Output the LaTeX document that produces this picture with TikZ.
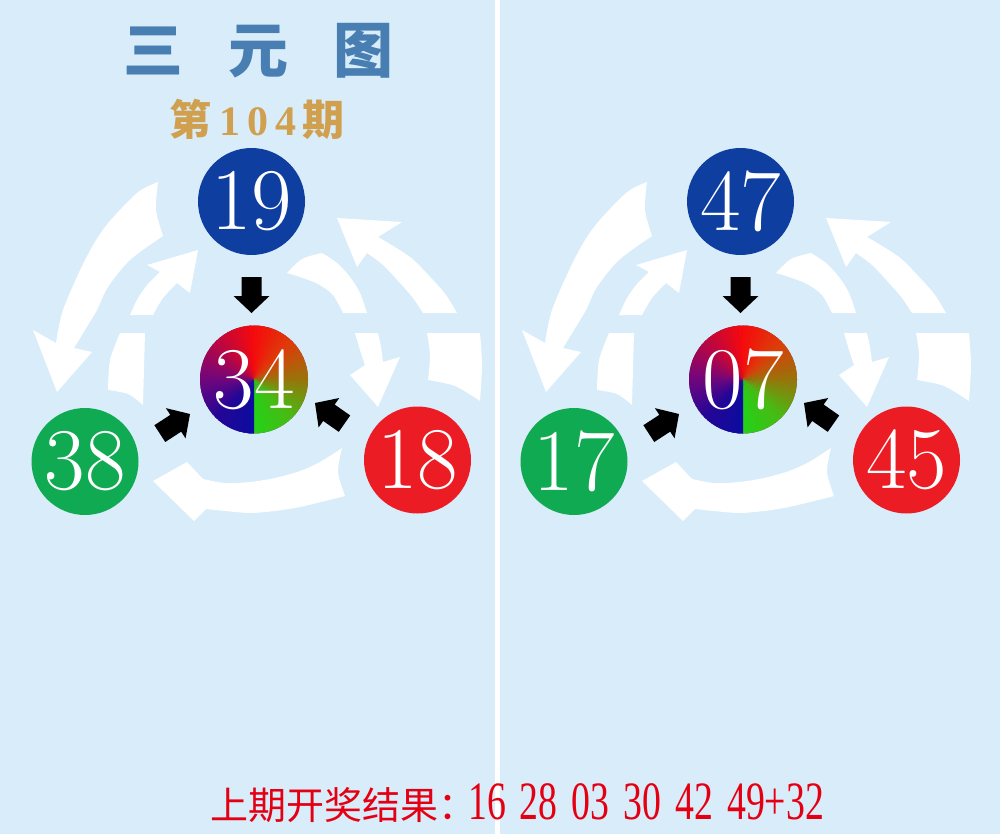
\documentclass[tikz,border=0pt]{standalone}
\usepackage{fontspec}
\usepackage{graphicx}
\newfontfamily\cjkfont{Noto Sans CJK SC}
\newfontfamily\numfont{Liberation Serif}
\definecolor{bg}{RGB}{216,236,250}
\definecolor{ballblue}{RGB}{14,62,160}
\definecolor{ballgreen}{RGB}{16,170,82}
\definecolor{ballred}{RGB}{236,28,36}
\definecolor{titleblue}{RGB}{72,126,178}
\definecolor{gold}{RGB}{208,160,78}
\definecolor{resred}{RGB}{228,0,18}
\definecolor{ballbase}{RGB}{120,40,90}
\definecolor{g0}{RGB}{12,12,160}
\definecolor{g1}{RGB}{35,6,150}
\definecolor{g2}{RGB}{112,6,125}
\definecolor{g3}{RGB}{186,6,66}
\definecolor{g4}{RGB}{246,10,12}
\definecolor{g5}{RGB}{222,60,10}
\definecolor{g6}{RGB}{152,116,10}
\definecolor{g7}{RGB}{72,186,20}
\definecolor{g8}{RGB}{36,210,24}
\tikzset{
  ball/.style={circle, inner sep=0pt, minimum size=107pt, text=white,
    font=\fontsize{88}{88}\selectfont},
  warrow/.style={fill=white},
  blkarrow/.pic={\fill[black] (0,0) -- (-17,-18) -- (-17,-10) -- (-36,-10)
    -- (-36,10) -- (-17,10) -- (-17,18) -- cycle;},
  titletext/.style={inner sep=0pt, font=\cjkfont\bfseries\fontsize{60}{60}\selectfont},
  issuetext/.style={inner sep=0pt},
  restext/.style={inner sep=0pt, text=resred, anchor=west}
}
\newcommand\gradball[2]{%
  \begin{scope}[shift={(#1,#2)}]
    \clip (0,0) circle[radius=54];
    \fill[ballbase] (0,0) circle[radius=56];
    \foreach \gA/\gB [count=\k from 0] in {g0/g1,g1/g2,g2/g3,g3/g4,g4/g5,g5/g6,g6/g7,g7/g8}{
      \foreach \j in {0,...,8}{
        \pgfmathsetmacro\aa{90+45*\k+5*\j}
        \pgfmathsetmacro\ab{\aa+6.5}
        \pgfmathsetmacro\pp{100*(\j+0.5)/9}
        \colorlet{wedgecol}{\gB!\pp!\gA}
        \fill[fill=wedgecol] (0,0) -- (\aa:62) -- (\ab:62) -- cycle;
      }
    }
    \fill[g0] (0,0) -- (90:62) -- (96:62) -- cycle;
  \end{scope}}
\newcommand\whitearrows{%
  % outer left
  \fill[warrow] plot[smooth] coordinates {(158,182) (137,193) (105,227) (85,260) (63,310) (56,343)}
    -- (33,330) -- (57,392) -- (92,352) -- (74,348)
    -- plot[smooth] coordinates {(74,348) (85,330) (97,310) (108,287) (130,260) (163,236)}
    -- plot[smooth] coordinates {(163,236) (156,210) (158,182)} -- cycle;
  % outer right, upper part
  \fill[warrow] plot[smooth] coordinates {(457,313) (446,295) (433,280) (410,257) (378,237)}
    -- (402,222) -- (337,218) -- (357,267) -- (367,253)
    -- plot[smooth] coordinates {(367,253) (383,265) (400,283) (413,298) (423,313)} -- cycle;
  % outer right, lower part
  \fill[warrow] (427,333) -- (480,333)
    -- plot[smooth] coordinates {(480,333) (482,365) (480,401)}
    -- plot[smooth] coordinates {(480,401) (455,386) (428,380)}
    -- plot[smooth] coordinates {(428,380) (430,355) (427,333)} -- cycle;
  % inner left, lower part
  \fill[warrow] (120,333) -- (145,333) -- (143,405)
    -- plot[smooth] coordinates {(143,405) (128,394) (108,390)}
    -- plot[smooth] coordinates {(108,390) (110,360) (120,333)} -- cycle;
  % inner left, upper part
  \fill[warrow] plot[smooth] coordinates {(130,315) (138,298) (148,284) (160,272)}
    -- (147,265) -- (198,250) -- (190,293) -- (177,283)
    -- plot[smooth] coordinates {(177,283) (163,298) (153,315)} -- cycle;
  % inner right, upper part
  \fill[warrow] plot[smooth] coordinates {(287,273) (302,259) (322,253)}
    -- plot[smooth] coordinates {(322,253) (337,263) (350,277) (360,293) (367,313)}
    -- (343,313)
    -- plot[smooth] coordinates {(343,313) (333,295) (318,284) (300,277) (287,273)} -- cycle;
  % inner right, lower part
  \fill[warrow] plot[smooth] coordinates {(355,333) (360,350) (365,365)}
    -- (350,375) -- (378,407) -- (400,357) -- (383,362)
    -- plot[smooth] coordinates {(383,362) (381,347) (378,333)} -- cycle;
  % inner bottom
  \fill[warrow] plot[smooth] coordinates {(342,448) (320,462) (300,471) (275,478) (250,482) (225,483) (203,479)}
    -- (187,462) -- (153,481) -- (194,521) -- (206,509)
    -- plot[smooth] coordinates {(206,509) (225,511) (250,513) (275,511) (300,507) (325,501) (345,496)}
    -- plot[smooth] coordinates {(345,496) (338,472) (342,448)} -- cycle;
}
\newcommand\sypanel[5]{%
  \whitearrows
  \gradball{254}{379.5}
  \node[ball, fill=ballblue] (#1top) at (251.5,201.5) {#2};
  \node[ball, minimum size=108pt] (#1mid) at (254,379.5) {#3};
  \node[ball, fill=ballgreen] (#1left) at (85,461.5) {#4};
  \node[ball, fill=ballred] (#1right) at (417.5,460) {#5};
  \pic[rotate=-90] (#1adown) at (251.5,313) {blkarrow};
  \pic[rotate=33] (#1aleft) at (190,414) {blkarrow};
  \pic[rotate=145] (#1aright) at (315,403) {blkarrow};
}
\begin{document}
\begin{tikzpicture}[x=1pt,y=-1pt]
\fill[bg] (0,0) rectangle (1000,834);
\useasboundingbox (0,0) rectangle (1000,834);
\fill[white] (495,0) rectangle (500,834);
% title
\node[titletext, text=titleblue] (title) at (258,51) {三\hspace{45pt}元\hspace{45pt}图};
\node[issuetext, text=gold] (issue) at (257,119)
  {{\cjkfont\bfseries\fontsize{42}{42}\selectfont 第}\hspace{8pt}{\numfont\bfseries\fontsize{42}{42}\selectfont 1\hspace{7pt}0\hspace{7pt}4}\hspace{6pt}{\cjkfont\bfseries\fontsize{42}{42}\selectfont 期}};
% panels
\begin{scope}
  \sypanel{L}{19}{34}{38}{18}
\end{scope}
\begin{scope}[xshift=489pt]
  \sypanel{R}{47}{07}{17}{45}
\end{scope}
% result line
\node[restext] (result) at (210,803)
  {{\cjkfont\fontsize{38}{38}\selectfont 上期开奖结果：}\hspace{-8pt}\scalebox{0.7}[1]{\numfont\fontsize{54}{54}\selectfont 16\hspace{20pt}28\hspace{20pt}03\hspace{20pt}30\hspace{20pt}42\hspace{20pt}49+32}};
\end{tikzpicture}
\end{document}
